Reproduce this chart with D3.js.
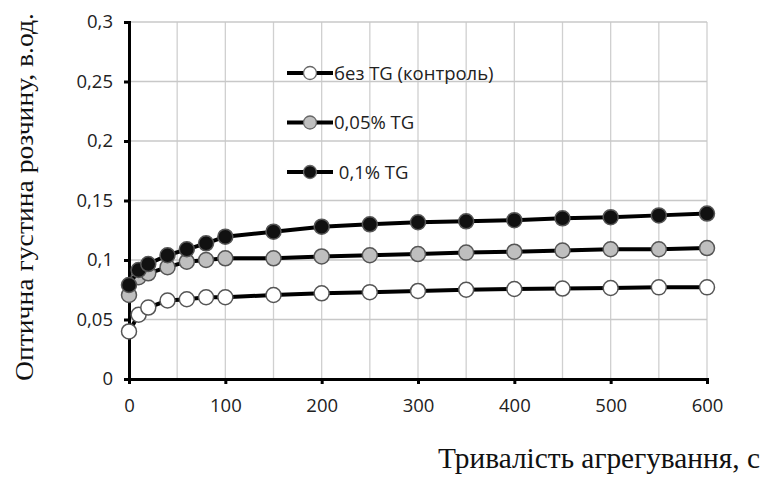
<!DOCTYPE html>
<meta charset="utf-8">
<script src="https://d3js.org/d3.v7.min.js"></script>
<style>
  body { margin: 0; background: #fff; }
</style>
<div id="chart"></div>
<script>
// x values (seconds)
var times = [0, 10, 20, 40, 60, 80, 100, 150, 200, 250, 300, 350, 400, 450, 500, 550, 600];

// series values
var control = [0.040, 0.054, 0.060, 0.066, 0.067, 0.0687, 0.0687, 0.0706, 0.072, 0.073, 0.074, 0.075, 0.0756, 0.076, 0.0765, 0.077, 0.077];
var tg005 = [0.0706, 0.0855, 0.0888, 0.094, 0.0986, 0.100, 0.1014, 0.1014, 0.103, 0.104, 0.105, 0.1062, 0.107, 0.108, 0.109, 0.109, 0.110];
var tg01 = [0.079, 0.0916, 0.0966, 0.104, 0.109, 0.114, 0.1196, 0.1238, 0.128, 0.130, 0.1317, 0.1325, 0.1335, 0.135, 0.136, 0.1375, 0.139];

var seriesNames = ["без TG (контроль)", "0,05% TG", " 0,1% TG"];
var seriesFill = ["#ffffff", "#bfbfbf", "#111111"];
var yTicks = [0, 0.05, 0.1, 0.15, 0.2, 0.25, 0.3];
var xTicks = [0, 100, 200, 300, 400, 500, 600];

var series = [control, tg005, tg01].map(function(vals, i) {
  return {
    name: seriesNames[i],
    fill: seriesFill[i],
    values: vals.map(function(v, j) { return {t: times[j], v: v}; })
  };
});

var W = 767, H = 479;
var margin = {top: 22, left: 129};
var width = 707 - margin.left, height = 379 - margin.top;
var sans = "Open Sans, sans-serif";
var serif = "Liberation Serif, Times New Roman, serif";

var svg = d3.select("#chart").append("svg")
  .attr("width", W).attr("height", H);
var g = svg.append("g")
  .attr("transform", "translate(" + margin.left + "," + margin.top + ")");

var x = d3.scaleLinear().domain([0, 600]).range([0, width]);
var y = d3.scaleLinear().domain([0, 0.3]).range([height, 0]);

// gridlines
g.append("g").selectAll("line")
  .data(d3.range(50, 601, 50))
  .join("line")
  .attr("x1", d => x(d)).attr("x2", d => x(d))
  .attr("y1", 0).attr("y2", height)
  .attr("stroke", "#d0d0d0").attr("stroke-width", 1.3);
g.append("g").selectAll("line")
  .data(yTicks.slice(1))
  .join("line")
  .attr("x1", 0).attr("x2", width)
  .attr("y1", d => y(d)).attr("y2", d => y(d))
  .attr("stroke", "#c8c8c8").attr("stroke-width", 1.3);

var fmt = function(d) { return String(d).replace(".", ","); };

// y axis
var yAxis = g.append("g")
  .call(d3.axisLeft(y).tickValues(yTicks).tickFormat(fmt).tickSize(5).tickPadding(11));
yAxis.select(".domain").attr("stroke", "#000").attr("stroke-width", 3);
yAxis.selectAll(".tick line").attr("stroke", "#000").attr("stroke-width", 3);
yAxis.selectAll("text")
  .attr("font-family", sans).attr("font-size", 18.5).attr("fill", "#222");

// x axis
var xAxis = g.append("g")
  .attr("transform", "translate(0," + height + ")")
  .call(d3.axisBottom(x).tickValues(xTicks).tickSizeOuter(0).tickSize(5).tickPadding(15));
xAxis.select(".domain").attr("stroke", "#000").attr("stroke-width", 3);
xAxis.selectAll(".tick line").attr("stroke", "#000").attr("stroke-width", 3);
xAxis.selectAll("text")
  .attr("font-family", sans).attr("font-size", 18.5).attr("fill", "#222");

// lines + markers
var line = d3.line().x(d => x(d.t)).y(d => y(d.v));
series.forEach(function(s) {
  g.append("path")
    .datum(s.values)
    .attr("d", line)
    .attr("fill", "none").attr("stroke", "#000").attr("stroke-width", 4);
  g.append("g").selectAll("circle")
    .data(s.values)
    .join("circle")
    .attr("cx", d => x(d.t)).attr("cy", d => y(d.v))
    .attr("r", 7.5)
    .attr("fill", s.fill)
    .attr("stroke", "#555").attr("stroke-width", 1.5);
});

// legend
var legend = svg.append("g").attr("transform", "translate(287,73)");
series.forEach(function(s, i) {
  var row = legend.append("g").attr("transform", "translate(0," + (i * 49.5) + ")");
  row.append("line").attr("x1", 0).attr("x2", 46).attr("y1", 0).attr("y2", 0)
    .attr("stroke", "#000").attr("stroke-width", 4);
  row.append("circle").attr("cx", 23).attr("cy", 0).attr("r", 6.5)
    .attr("fill", s.fill).attr("stroke", "#666").attr("stroke-width", 1.3);
  row.append("text").attr("x", 47).attr("y", 6.5)
    .attr("font-family", sans).attr("font-size", 18.5).attr("fill", "#222")
    .style("white-space", "pre")
    .text(s.name);
});

// axis titles
svg.append("text")
  .attr("transform", "translate(33,197) rotate(-90)")
  .attr("text-anchor", "middle")
  .attr("font-family", serif)
  .attr("font-size", 26).attr("fill", "#111")
  .attr("textLength", 368).attr("lengthAdjust", "spacingAndGlyphs")
  .text("Оптична густина розчину,  в.од.");

svg.append("text")
  .attr("x", 760).attr("y", 468)
  .attr("text-anchor", "end")
  .attr("font-family", serif)
  .attr("font-size", 29).attr("fill", "#111")
  .attr("textLength", 322).attr("lengthAdjust", "spacingAndGlyphs")
  .text("Тривалість агрегування,  с");
</script>
